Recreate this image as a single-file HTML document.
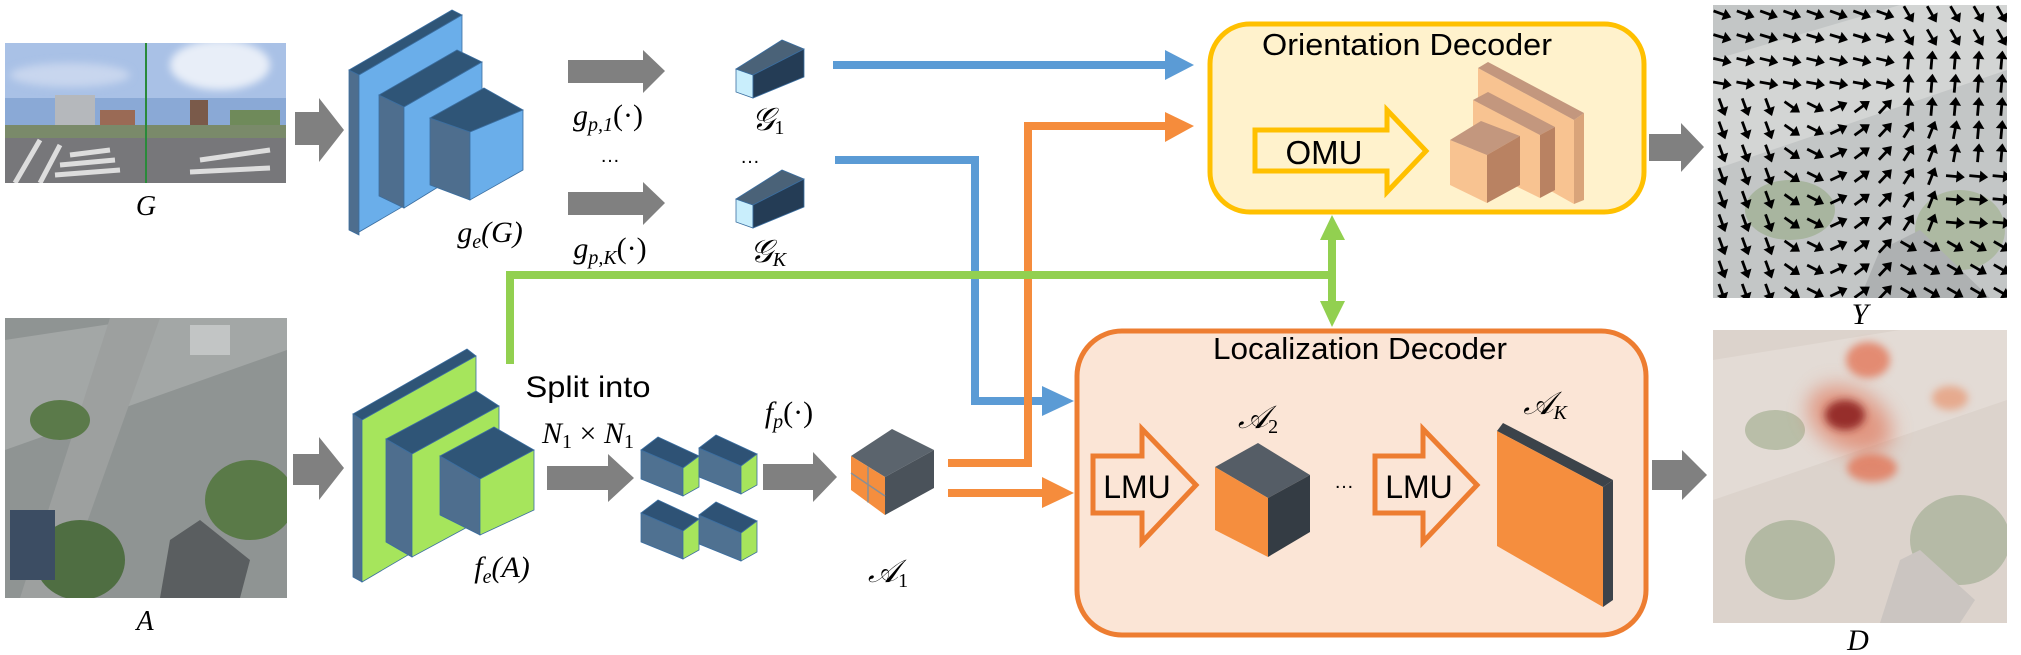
<!DOCTYPE html>
<html><head><meta charset="utf-8"><style>
html,body{margin:0;padding:0;background:#fff;}
svg{display:block;}
.m{font-family:"Liberation Serif",serif;font-style:italic;fill:#000;}
.s{font-family:"Liberation Sans",sans-serif;fill:#000;}
</style></head><body>
<svg id="sv" width="2021" height="655" viewBox="0 0 2021 655" xmlns="http://www.w3.org/2000/svg">
<defs>
<filter id="bl" x="-50%" y="-50%" width="200%" height="200%"><feGaussianBlur stdDeviation="10"/></filter>
<filter id="bl2" x="-50%" y="-50%" width="200%" height="200%"><feGaussianBlur stdDeviation="4"/></filter>
<clipPath id="cp1"><rect x="5" y="43" width="281" height="140"/></clipPath>
<clipPath id="cp2"><rect x="5" y="318" width="282" height="280"/></clipPath>
<clipPath id="cp3"><rect x="1713" y="5" width="294" height="293"/></clipPath>
<clipPath id="cp4"><rect x="1713" y="330" width="294" height="293"/></clipPath>
</defs>

<!-- Panorama G -->
<g clip-path="url(#cp1)">
<rect x="5" y="43" width="281" height="140" fill="#8aa9d6"/>
<rect x="5" y="43" width="281" height="55" fill="#a9c1e6"/>
<ellipse cx="220" cy="65" rx="50" ry="25" fill="#e8eef8" filter="url(#bl2)"/>
<ellipse cx="70" cy="75" rx="60" ry="12" fill="#c8d6ee" filter="url(#bl2)"/>
<rect x="55" y="95" width="40" height="45" fill="#b5b8bc"/>
<rect x="100" y="110" width="35" height="30" fill="#9a6a55"/>
<rect x="190" y="100" width="18" height="40" fill="#7a5a4a"/>
<rect x="230" y="110" width="50" height="30" fill="#6f8a5a"/>
<rect x="5" y="125" width="281" height="15" fill="#7a8a6a"/>
<rect x="5" y="138" width="281" height="45" fill="#77777a"/>
<path d="M15 183 L40 140 M40 183 L60 145 M70 155 L110 150 M60 165 L115 160 M55 175 L120 170 M200 160 L270 150 M190 172 L270 168" stroke="#ddd" stroke-width="5"/>
<line x1="146" y1="43" x2="146" y2="183" stroke="#2a8a3a" stroke-width="2"/>
</g>
<text x="146" y="215" class="m" font-size="28" text-anchor="middle">G</text>

<!-- Aerial A -->
<g clip-path="url(#cp2)">
<rect x="5" y="318" width="282" height="280" fill="#8f9493"/>
<polygon points="5,340 150,318 287,318 287,350 5,450" fill="#a3a7a6"/>
<polygon points="110,318 160,318 60,598 20,598" fill="#9da09f"/>
<ellipse cx="60" cy="420" rx="30" ry="20" fill="#5b7a4a"/>
<ellipse cx="80" cy="560" rx="45" ry="40" fill="#4f6e42"/>
<ellipse cx="250" cy="500" rx="45" ry="40" fill="#5a7a48"/>
<polygon points="170,540 200,520 250,560 240,598 160,598" fill="#5a5e60"/>
<rect x="10" y="510" width="45" height="70" fill="#3c4d63"/>
<rect x="190" y="325" width="40" height="30" fill="#cfd2d3" opacity="0.7"/>
</g>
<text x="145" y="630" class="m" font-size="28" text-anchor="middle">A</text>

<!-- Gray block arrows -->
<g fill="#808080">
<polygon points="295,112 319,112 319,98 344,130 319,162 319,145 295,145"/>
<polygon points="568,60 643,60 643,50 665,71 643,93 643,83 568,83"/>
<polygon points="568,192 643,192 643,182 665,203 643,225 643,215 568,215"/>
<polygon points="293,454 319,454 319,437 344,468 319,500 319,485 293,485"/>
<polygon points="547,466 608,466 608,454 634,478 608,502 608,490 547,490"/>
<polygon points="763,464 813,464 813,452 837,477 813,502 813,490 763,490"/>
<polygon points="1649,134 1681,134 1681,123 1704,147 1681,172 1681,161 1649,161"/>
<polygon points="1652,460 1682,460 1682,450 1707,475 1682,500 1682,490 1652,490"/>
</g>

<!-- Blue encoder -->
<g stroke="#3b6ea0" stroke-width="0.8">
<polygon points="349,70 359,75 359,235 349,230" fill="#4e6e8e"/>
<polygon points="349,70 452,10 462,15 359,75" fill="#2f5577"/>
<polygon points="359,75 462,15 462,172 359,232" fill="#6aaeea"/>
<polygon points="379,95 404,107 404,208 379,196" fill="#4e6e8e"/>
<polygon points="379,95 457,50 482,62 404,107" fill="#2f5577"/>
<polygon points="404,107 482,62 482,160 404,208" fill="#6aaeea"/>
<polygon points="430,118 470,132 470,200 430,185" fill="#4e6e8e"/>
<polygon points="430,118 484,88 523,110 470,132" fill="#2f5577"/>
<polygon points="470,132 523,110 523,170 470,200" fill="#6aaeea"/>
</g>
<text x="490" y="242" class="m" font-size="30" text-anchor="middle">g<tspan font-size="20" dy="6">e</tspan><tspan dy="-6">(G)</tspan></text>

<text x="608" y="125" class="m" font-size="30" text-anchor="middle">g<tspan font-size="20" dy="6">p,1</tspan><tspan dy="-6" font-style="normal">(·)</tspan></text>
<text x="610" y="162" class="s" font-size="20" text-anchor="middle">…</text>
<text x="610" y="258" class="m" font-size="30" text-anchor="middle">g<tspan font-size="20" dy="6">p,K</tspan><tspan dy="-6" font-style="normal">(·)</tspan></text>

<!-- G1, GK cubes -->
<g stroke="#3b6ea0" stroke-width="0.8">
<polygon points="736,69 753,75 753,98 736,92" fill="#c9eefc"/>
<polygon points="736,69 782,40 804,49 753,75" fill="#4a6278"/>
<polygon points="753,75 804,49 804,77 753,98" fill="#243c55"/>
<polygon points="736,199 753,205 753,228 736,222" fill="#c9eefc"/>
<polygon points="736,199 782,170 804,179 753,205" fill="#4a6278"/>
<polygon points="753,205 804,179 804,207 753,228" fill="#243c55"/>
</g>
<text x="768" y="130" class="m" font-size="32" text-anchor="middle">𝒢<tspan font-size="20" font-style="normal" dy="4">1</tspan></text>
<text x="750" y="163" class="s" font-size="20" text-anchor="middle">…</text>
<text x="768" y="262" class="m" font-size="32" text-anchor="middle">𝒢<tspan font-size="20" dy="4">K</tspan></text>

<!-- Orientation decoder -->
<rect x="1210" y="24" width="434" height="188" rx="40" fill="#fff2cc" stroke="#ffc000" stroke-width="5"/>
<text x="1407" y="55" class="s" font-size="31" text-anchor="middle" textLength="290" lengthAdjust="spacingAndGlyphs">Orientation Decoder</text>
<polygon points="1255,130 1387,130 1387,110 1426,151 1387,192 1387,171 1255,171" fill="#fff2cc" stroke="#ffc000" stroke-width="5"/>
<text x="1324" y="164" class="s" font-size="33" text-anchor="middle">OMU</text>
<g>
<polygon points="1478,68 1574,120 1574,204 1478,150" fill="#f8c391"/>
<polygon points="1574,120 1584,113 1584,200 1574,204" fill="#d9a47a"/>
<polygon points="1478,68 1488,62 1584,113 1574,120" fill="#c3977e"/>
<polygon points="1473,100 1540,135 1540,198 1473,165" fill="#f8c391"/>
<polygon points="1540,135 1555,127 1555,190 1540,198" fill="#b98262"/>
<polygon points="1473,100 1488,92 1555,127 1540,135" fill="#c3977e"/>
<polygon points="1450,140 1487,155 1487,203 1450,185" fill="#f8c391"/>
<polygon points="1487,155 1520,136 1520,185 1487,203" fill="#b98262"/>
<polygon points="1450,140 1481,121 1520,136 1487,155" fill="#c3977e"/>
</g>

<!-- Localization decoder -->
<rect x="1077" y="331" width="569" height="304" rx="45" fill="#fbe5d6" stroke="#ed7d31" stroke-width="5"/>
<text x="1360" y="359" class="s" font-size="31" text-anchor="middle" textLength="294" lengthAdjust="spacingAndGlyphs">Localization Decoder</text>
<polygon points="1093,456 1142,456 1142,429 1196,485 1142,542 1142,513 1093,513" fill="#fbe5d6" stroke="#ed7d31" stroke-width="5"/>
<text x="1137" y="498" class="s" font-size="32" text-anchor="middle">LMU</text>
<polygon points="1375,456 1423,456 1423,429 1477,485 1423,542 1423,513 1375,513" fill="#fbe5d6" stroke="#ed7d31" stroke-width="5"/>
<text x="1419" y="498" class="s" font-size="32" text-anchor="middle">LMU</text>
<text x="1344" y="488" class="s" font-size="20" text-anchor="middle">…</text>
<polygon points="1215,467 1258,443 1310,475 1268,498" fill="#555d66"/>
<polygon points="1215,467 1268,498 1268,557 1215,530" fill="#f58e3e"/>
<polygon points="1268,498 1310,475 1310,532 1268,557" fill="#343c44"/>
<text x="1258" y="428" class="m" font-size="32" text-anchor="middle">𝒜<tspan font-size="20" font-style="normal" dy="5">2</tspan></text>
<polygon points="1497,431 1503,423 1613,480 1603,487" fill="#3c434a"/>
<polygon points="1603,487 1613,480 1613,600 1603,607" fill="#3c434a"/>
<polygon points="1497,431 1603,487 1603,607 1497,546" fill="#f58e3e"/>
<text x="1545" y="414" class="m" font-size="32" text-anchor="middle">𝒜<tspan font-size="20" dy="5">K</tspan></text>

<!-- Green encoder -->
<g stroke="#3b6ea0" stroke-width="0.8">
<polygon points="353,414 362,420 362,582 353,577" fill="#4e6e8e"/>
<polygon points="353,414 467,349 476,356 362,420" fill="#2f5577"/>
<polygon points="362,420 476,356 476,515 362,582" fill="#a6e55c"/>
<polygon points="386,439 412,454 412,557 386,542" fill="#4e6e8e"/>
<polygon points="386,439 476,391 499,406 412,454" fill="#2f5577"/>
<polygon points="412,454 499,406 499,510 412,557" fill="#a6e55c"/>
<polygon points="440,456 480,479 480,535 440,515" fill="#4e6e8e"/>
<polygon points="440,456 494,427 534,450 480,479" fill="#2f5577"/>
<polygon points="480,479 534,450 534,510 480,535" fill="#a6e55c"/>
</g>
<text x="502" y="577" class="m" font-size="30" text-anchor="middle">f<tspan font-size="20" dy="6">e</tspan><tspan dy="-6">(A)</tspan></text>
<text x="588" y="397" class="s" font-size="30" text-anchor="middle" textLength="125" lengthAdjust="spacingAndGlyphs">Split into</text>
<text x="588" y="443" class="m" font-size="30" text-anchor="middle">N<tspan font-size="20" font-style="normal" dy="5">1</tspan><tspan dy="-5" font-style="normal"> × </tspan>N<tspan font-size="20" font-style="normal" dy="5">1</tspan></text>

<!-- small blocks -->
<g id="blk" stroke="#3b6ea0" stroke-width="0.8"></g>

<text x="789" y="422" class="m" font-size="30" text-anchor="middle">f<tspan font-size="20" dy="6">p</tspan><tspan dy="-6" font-style="normal">(·)</tspan></text>

<!-- A1 -->
<polygon points="851,456 892,429 934,450 885,477" fill="#5b646d"/>
<polygon points="851,456 885,477 885,515 851,490" fill="#f58e3e"/>
<polygon points="885,477 934,450 934,488 885,515" fill="#4a525a"/>
<path d="M868,466.5 L868,502.5 M851,473 L885,496" stroke="#8a8f94" stroke-width="1.5"/>
<text x="888" y="582" class="m" font-size="32" text-anchor="middle">𝒜<tspan font-size="20" font-style="normal" dy="5">1</tspan></text>

<!-- connectors -->
<g fill="none" stroke-width="8">
<polyline points="833,65 1168,65" stroke="#5b9bd5"/>
<polyline points="835,160 975,160 975,401 1045,401" stroke="#5b9bd5"/>
<polyline points="948,463 1028,463 1028,126 1168,126" stroke="#f58c3c"/>
<polyline points="948,493 1045,493" stroke="#f58c3c"/>
<polyline points="510,364 510,275 1332,275" stroke="#92d050"/>
<polyline points="1332,238 1332,303" stroke="#92d050"/>
</g>
<polygon points="1165,50 1194,65 1165,80" fill="#5b9bd5"/>
<polygon points="1042,386 1074,401 1042,416" fill="#5b9bd5"/>
<polygon points="1165,112 1194,126 1165,142" fill="#f58c3c"/>
<polygon points="1042,477 1074,493 1042,508" fill="#f58c3c"/>
<polygon points="1320,240 1332,215 1345,240" fill="#92d050"/>
<polygon points="1320,301 1332,327 1345,301" fill="#92d050"/>

<!-- Y image -->
<g clip-path="url(#cp3)">
<rect x="1713" y="5" width="294" height="293" fill="#c3c6c6"/>
<polygon points="1713,60 1900,5 2007,5 2007,70 1713,170" fill="#d3d5d4"/>
<ellipse cx="1790" cy="210" rx="45" ry="30" fill="#a8b59f"/>
<ellipse cx="1960" cy="230" rx="45" ry="40" fill="#adb9a2"/>
<polygon points="1880,250 1920,230 1990,298 1860,298" fill="#aeb1b2"/>
<g id="arr" fill="#000" stroke="#000"></g>
</g>
<text x="1860" y="324" class="m" font-size="30" text-anchor="middle">Y</text>

<!-- D image -->
<g clip-path="url(#cp4)">
<rect x="1713" y="330" width="294" height="293" fill="#dcd3cc"/>
<polygon points="1713,360 1900,330 2007,330 2007,400 1713,500" fill="#e3dbd5"/>
<ellipse cx="1775" cy="430" rx="30" ry="20" fill="#b9bea8"/>
<ellipse cx="1790" cy="560" rx="45" ry="40" fill="#b3b9a3"/>
<ellipse cx="1960" cy="540" rx="50" ry="45" fill="#b5baa6"/>
<polygon points="1900,560 1920,550 1975,600 1960,623 1880,623" fill="#cbc5c1"/>
<ellipse cx="1850" cy="420" rx="45" ry="30" fill="#e07a5e" opacity="0.7" filter="url(#bl)" transform="rotate(30 1850 420)"/>
<ellipse cx="1868" cy="360" rx="22" ry="18" fill="#e36a48" opacity="0.7" filter="url(#bl2)"/>
<ellipse cx="1872" cy="468" rx="25" ry="14" fill="#e36a48" opacity="0.7" filter="url(#bl2)"/>
<ellipse cx="1950" cy="398" rx="18" ry="12" fill="#e88a60" opacity="0.6" filter="url(#bl2)"/>
<ellipse cx="1845" cy="415" rx="20" ry="15" fill="#8a1f1a" opacity="0.85" filter="url(#bl2)"/>
</g>
<text x="1858" y="650" class="m" font-size="30" text-anchor="middle">D</text>
</svg>
<script>
var NS="http://www.w3.org/2000/svg";
function poly(g,pts,fill){var p=document.createElementNS(NS,"polygon");p.setAttribute("points",pts);p.setAttribute("fill",fill);g.appendChild(p);}
var g=document.getElementById("blk");
[[641,437],[699,435],[641,500],[699,502]].forEach(function(b){var x=b[0],y=b[1];
poly(g,[x,y+13,x+42,y+31,x+42,y+59,x,y+42].join(" "),"#4f7191");
poly(g,[x,y+13,x+17,y,x+58,y+19,x+42,y+31].join(" "),"#2e5275");
poly(g,[x+42,y+31,x+58,y+19,x+58,y+50,x+42,y+59].join(" "),"#a6e55c");});
var a=document.getElementById("arr");
for(var r=0;r<13;r++){for(var c=0;c<13;c++){
var cx=1722+c*23.3,cy=14+r*23.2;var ang;
var u=c/12,v=r/12;
if(v<0.3&&u<0.65) ang=20-v*40;
else if(u<0.2&&v>=0.3) ang=70;
else if(u<0.35&&v>=0.3) ang=40-(u-0.2)*100;
else if(u>0.65&&v<0.4) ang=(v<0.15)?60:-95;
else if(v>0.75&&u>0.6) ang=30;
else if(u>0.75&&v>0.55) ang=5;
else ang=-10-(u-0.3)*130; if(ang<-85)ang=-85;
var t=ang*Math.PI/180,L=9;
var x1=cx-L*Math.cos(t),y1=cy-L*Math.sin(t),x2=cx+L*Math.cos(t),y2=cy+L*Math.sin(t);
var ln=document.createElementNS(NS,"line");ln.setAttribute("x1",x1);ln.setAttribute("y1",y1);ln.setAttribute("x2",x2-4*Math.cos(t));ln.setAttribute("y2",y2-4*Math.sin(t));ln.setAttribute("stroke-width","2.8");a.appendChild(ln);
var hx=x2-7*Math.cos(t),hy=y2-7*Math.sin(t),px=-Math.sin(t)*5,py=Math.cos(t)*5;
poly(a,[x2,y2,hx+px,hy+py,hx-px,hy-py].join(" "),"#000");}}
</script>
</body></html>
